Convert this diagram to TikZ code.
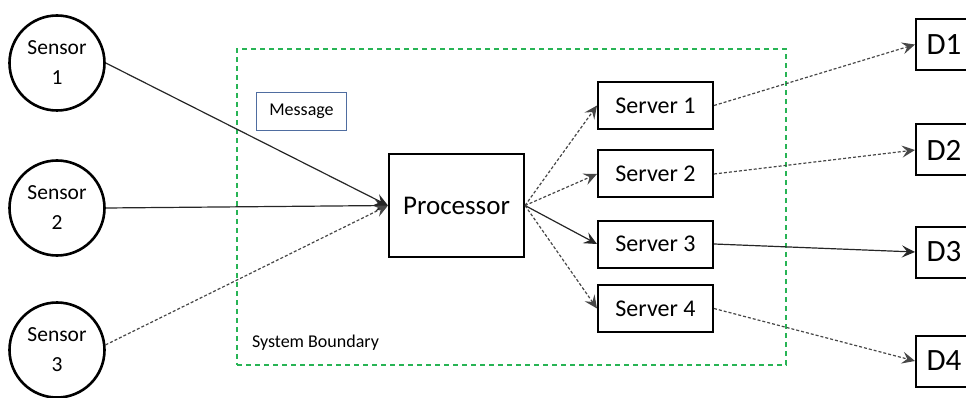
\documentclass[tikz,border=0pt]{standalone}
\usepackage{fontspec}
\setmainfont{Carlito}
\usetikzlibrary{arrows.meta}
\definecolor{bndgreen}{RGB}{40,180,85}
\definecolor{msgblue}{RGB}{79,109,160}
\begin{document}
\begin{tikzpicture}[x=1pt,y=-1pt,
  sensor/.style={circle,draw=black,line width=2.6pt,minimum size=95pt,inner sep=0pt,align=center,font=\fontsize{21.5}{30}\selectfont},
  box/.style={rectangle,draw=black,line width=2pt,inner sep=0pt},
  srv/.style={box,minimum width=115pt,minimum height=47pt,font=\fontsize{24}{28}\selectfont},
  dbox/.style={box,minimum width=56pt,minimum height=51pt,font=\fontsize{31}{36}\selectfont},
  conn/.style={draw=black!85,line width=1.2pt,-{Stealth[length=13pt,width=12pt,inset=5pt]}},
  dconn/.style={conn,draw=black!72,dash pattern=on 3pt off 2pt},
  bnd/.style={rectangle,draw=bndgreen,line width=1.1pt,dash pattern=on 5pt off 4pt,inner sep=0pt},
  lbl/.style={inner sep=0pt,font=\fontsize{18}{22}\selectfont}
  ]
\useasboundingbox (0,0) rectangle (966,398);
\node[bnd,minimum width=549pt,minimum height=316pt] (boundary) at (511.5,207) {};
\node[lbl] (sblabel) at (315.5,343) {System Boundary};
\node[rectangle,draw=msgblue,line width=1.3pt,minimum width=90pt,minimum height=38pt,inner sep=0pt,font=\fontsize{18}{22}\selectfont] (msg) at (301.5,111.5) {Message};

\node[sensor] (s1) at (57,63) {Sensor\\1};
\node[sensor] (s2) at (57,208) {Sensor\\2};
\node[sensor] (s3) at (57,350) {Sensor\\3};

\node[box,minimum width=135pt,minimum height=103pt,font=\fontsize{27}{32}\selectfont] (proc) at (456.5,205.5) {Processor};

\node[srv] (v1) at (655.5,105.5) {Server 1};
\node[srv] (v2) at (655.5,174) {Server 2};
\node[srv] (v3) at (655.5,244) {Server 3};
\node[srv] (v4) at (655.5,308.5) {Server 4};

\node[dbox] (d1) at (944,44.5) {D1};
\node[dbox] (d2) at (944,150) {D2};
\node[dbox] (d3) at (944,252) {D3};
\node[dbox] (d4) at (944,361) {D4};

\draw[conn] (s1.east) -- (proc.west);
\draw[conn] (s2.east) -- (proc.west);
\draw[dconn] (s3.6) -- (proc.west);

\draw[dconn] (proc.east) -- (v1.west);
\draw[dconn] (proc.east) -- (v2.west);
\draw[conn] (proc.east) -- (v3.west);
\draw[dconn] (proc.east) -- (v4.west);

\draw[dconn] (v1.east) -- (d1.west);
\draw[dconn] (v2.east) -- (d2.west);
\draw[conn] (v3.east) -- (d3.west);
\draw[dconn] (v4.east) -- (d4.west);
\end{tikzpicture}
\end{document}
